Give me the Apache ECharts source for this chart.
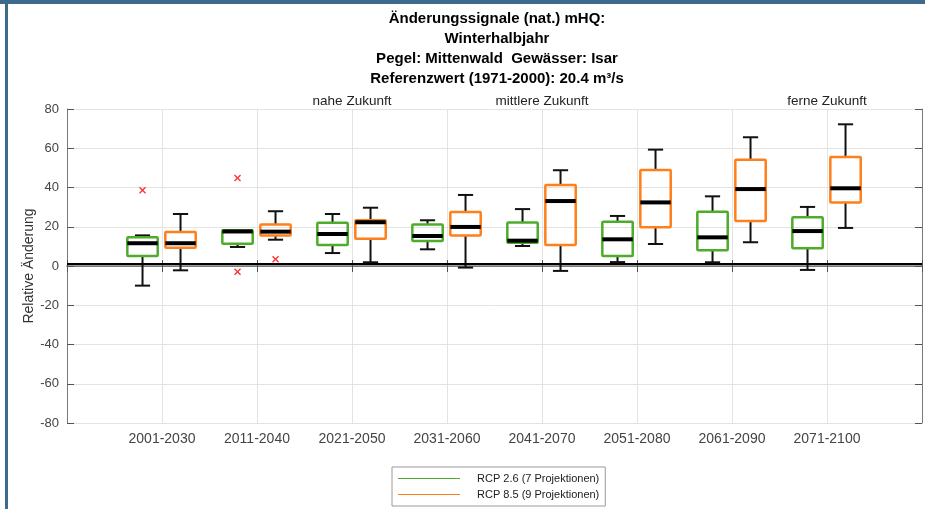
<!DOCTYPE html>
<html>
<head>
<meta charset="utf-8">
<script src="https://cdn.jsdelivr.net/npm/echarts@6/dist/echarts.min.js"></script>
<style>
  html, body { margin: 0; padding: 0; background: #fff; }
  #chart { width: 925px; height: 509px; }
</style>
</head>
<body>
<div id="chart"></div>
<script>
// Perioden (x-Achse) und Zeitraum-Beschriftung oben
const categories = ['2001-2030', '2011-2040', '2021-2050', '2031-2060', '2041-2070', '2051-2080', '2061-2090', '2071-2100']
const topLabels = ['', '', 'nahe Zukunft', '', 'mittlere Zukunft', '', '', 'ferne Zukunft']

// Boxplot-Werte je Periode: [min, q1, median, q3, max]
const rcp26 = [
  [-10.0, 5.1, 11.6, 14.6, 15.6],
  [9.7, 11.4, 17.6, 18.2, 18.2],
  [6.6, 10.7, 16.3, 22.1, 26.5],
  [8.5, 12.7, 15.3, 21.2, 23.3],
  [10.2, 11.9, 12.9, 22.2, 29.0],
  [2.0, 5.1, 13.6, 22.6, 25.5],
  [1.9, 8.0, 14.6, 27.7, 35.5],
  [-2.0, 9.0, 17.8, 24.8, 30.1],
]
const rcp85 = [
  [-2.2, 9.3, 11.6, 17.3, 26.5],
  [13.4, 15.5, 17.5, 21.2, 27.9],
  [1.9, 13.9, 22.3, 23.3, 29.7],
  [-0.8, 15.5, 19.9, 27.5, 36.2],
  [-2.5, 10.7, 33.1, 41.3, 48.8],
  [11.2, 19.7, 32.4, 48.9, 59.3],
  [12.1, 22.9, 39.2, 54.2, 65.6],
  [19.4, 32.3, 39.6, 55.5, 72.2],
]
// Ausreißer: [Periodenindex, Wert]
const outliers26 = [[0, 38.6], [1, 44.8], [1, -2.9]]
const outliers85 = [[1, 3.4]]

const titleLines = [
  'Änderungssignale (nat.) mHQ:',
  'Winterhalbjahr',
  'Pegel: Mittenwald  Gewässer: Isar',
  'Referenzwert (1971-2000): 20.4 m³/s',
]

const GREEN = '#4dac2c'
const ORANGE = '#ff7f1a'
const FONT = 'Liberation Sans, Arial, sans-serif'

const chart = echarts.init(document.getElementById('chart'))

// leere Kategorien an den Rändern, damit die Perioden bei 1..8 liegen
const axisData = [''].concat(categories, [''])
const topAxisData = [''].concat(topLabels, [''])

const boxRenderer = (offset, color) => (params, api) => {
  const x = api.value(0)
  const band = api.size([1, 0])[0]
  const cx = api.coord([x, 0])[0] + offset * band
  const half = band * 0.16
  const cap = band * 0.08
  const y = [1, 2, 3, 4, 5].map((d) => api.coord([x, api.value(d)])[1])
  const blk = { stroke: '#111', lineWidth: 2 }
  return {
    type: 'group',
    children: [
      { type: 'line', shape: { x1: cx, y1: y[0], x2: cx, y2: y[1] }, style: blk },
      { type: 'line', shape: { x1: cx, y1: y[3], x2: cx, y2: y[4] }, style: blk },
      { type: 'line', shape: { x1: cx - cap, y1: y[0], x2: cx + cap, y2: y[0] }, style: blk },
      { type: 'line', shape: { x1: cx - cap, y1: y[4], x2: cx + cap, y2: y[4] }, style: blk },
      {
        type: 'rect',
        shape: { x: cx - half, y: y[3], width: half * 2, height: y[1] - y[3], r: 1 },
        style: { fill: 'none', stroke: color, lineWidth: 2.5 },
      },
      { type: 'line', shape: { x1: cx - half, y1: y[2], x2: cx + half, y2: y[2] }, style: { stroke: '#000', lineWidth: 4 } },
    ],
  }
}

const outlierRenderer = (offset) => (params, api) => {
  const x = api.value(0)
  const band = api.size([1, 0])[0]
  const p = api.coord([x, api.value(1)])
  const cx = p[0] + offset * band
  const s = 3
  const st = { stroke: '#ff3030', lineWidth: 1.3 }
  return {
    type: 'group',
    children: [
      { type: 'line', shape: { x1: cx - s, y1: p[1] - s, x2: cx + s, y2: p[1] + s }, style: st },
      { type: 'line', shape: { x1: cx - s, y1: p[1] + s, x2: cx + s, y2: p[1] - s }, style: st },
    ],
  }
}

const option = {
  animation: false,
  textStyle: { fontFamily: FONT },
  grid: { left: 67, top: 109, width: 861, height: 314 },
  graphic: [
    { type: 'rect', left: 0, top: 0, shape: { width: 925, height: 4 }, style: { fill: '#3d6b8c' } },
    { type: 'rect', left: 5, top: 0, shape: { width: 3, height: 509 }, style: { fill: '#3d6b8c' } },
    {
      type: 'text',
      x: 497,
      y: 9,
      style: {
        text: titleLines.join('\n'),
        textAlign: 'center',
        font: 'bold 15px "Liberation Sans", Arial, sans-serif',
        lineHeight: 20,
        fill: '#000',
      },
    },
  ],
  legend: {
    data: ['RCP 2.6 (7 Projektionen)', 'RCP 8.5 (9 Projektionen)'],
    orient: 'vertical',
    left: 392,
    top: 467,
    icon: 'rect',
    itemWidth: 62,
    itemHeight: 1,
    itemGap: 5,
    padding: [6, 6, 6, 6],
    borderColor: '#9a9a9a',
    borderWidth: 1,
    borderRadius: 0,
    textStyle: { fontSize: 11, color: '#222', padding: [0, 0, 0, 12], fontFamily: FONT },
  },
  xAxis: [
    {
      type: 'category',
      data: axisData,
      boundaryGap: false,
      position: 'bottom',
      axisLine: { lineStyle: { color: '#7a7a7a', width: 1.5 } },
      axisTick: { inside: true, length: 6, interval: 0, lineStyle: { color: '#555' } },
      axisLabel: { interval: 0, fontSize: 14, color: '#444', margin: 9 },
      splitLine: { show: true, interval: 0, lineStyle: { color: '#e3e3e3' } },
    },
    {
      type: 'category',
      data: topAxisData,
      boundaryGap: false,
      position: 'top',
      axisLine: { lineStyle: { color: '#7a7a7a' } },
      axisTick: { inside: true, length: 6, interval: 0, lineStyle: { color: '#555' } },
      axisLabel: { interval: 0, fontSize: 13.5, color: '#222', margin: 1 },
      splitLine: { show: false },
    },
  ],
  yAxis: [
    {
      type: 'value',
      min: -80,
      max: 80,
      interval: 20,
      name: 'Relative Änderung',
      nameLocation: 'middle',
      nameGap: 31,
      nameMoveOverlap: false,
      nameTextStyle: { fontSize: 14, color: '#333' },
      axisLine: { show: true, lineStyle: { color: '#7a7a7a' } },
      axisTick: { show: true, inside: true, length: 7, lineStyle: { color: '#555' } },
      axisLabel: { fontSize: 13, color: '#444', margin: 8 },
      splitLine: { lineStyle: { color: '#e3e3e3' } },
    },
    {
      type: 'value',
      min: -80,
      max: 80,
      interval: 20,
      position: 'right',
      axisLine: { show: true, lineStyle: { color: '#7a7a7a' } },
      axisTick: { show: true, inside: true, length: 7, lineStyle: { color: '#555' } },
      axisLabel: { show: false },
      splitLine: { show: false },
    },
  ],
  series: [
    {
      name: 'RCP 2.6 (7 Projektionen)',
      type: 'custom',
      itemStyle: { color: GREEN },
      renderItem: boxRenderer(-0.205, GREEN),
      encode: { x: 0, y: [1, 2, 3, 4, 5] },
      data: rcp26.map((d, i) => [i + 1].concat(d)),
      markLine: {
        silent: true,
        symbol: 'none',
        label: { show: false },
        lineStyle: { color: '#000', width: 2, type: 'solid' },
        data: [{ yAxis: 1 }],
      },
      z: 3,
    },
    {
      name: 'RCP 8.5 (9 Projektionen)',
      type: 'custom',
      itemStyle: { color: ORANGE },
      renderItem: boxRenderer(0.195, ORANGE),
      encode: { x: 0, y: [1, 2, 3, 4, 5] },
      data: rcp85.map((d, i) => [i + 1].concat(d)),
      z: 3,
    },
    {
      name: 'Ausreißer 2.6',
      type: 'custom',
      renderItem: outlierRenderer(-0.205),
      encode: { x: 0, y: 1 },
      data: outliers26.map((d) => [d[0] + 1, d[1]]),
      z: 4,
    },
    {
      name: 'Ausreißer 8.5',
      type: 'custom',
      renderItem: outlierRenderer(0.195),
      encode: { x: 0, y: 1 },
      data: outliers85.map((d) => [d[0] + 1, d[1]]),
      z: 4,
    },
  ],
}

chart.setOption(option)
</script>
</body>
</html>
